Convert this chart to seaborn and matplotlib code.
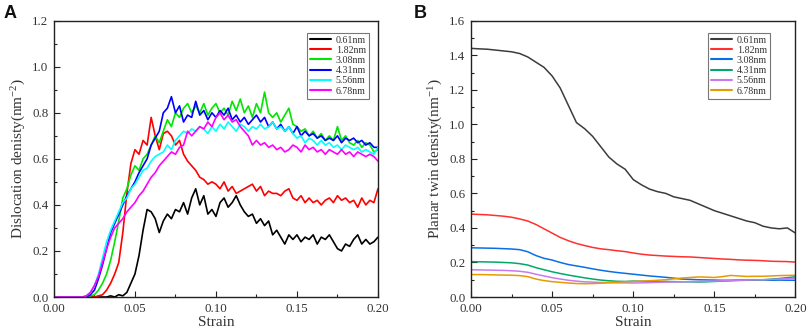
import numpy as np
import pandas as pd
import matplotlib
matplotlib.use("Agg")
import matplotlib.pyplot as plt
import seaborn as sns
from matplotlib.ticker import MultipleLocator, FormatStrFormatter

# ---------------- data ----------------
sizes = ["0.61nm", "1.82nm", "3.08nm", "4.31nm", "5.56nm", "6.78nm"]

strain_a = np.linspace(0.0, 0.2, 81)   # step 0.0025
strain_b = np.linspace(0.0, 0.2, 41)   # step 0.005

disl_061 = [0, 0, 0, 0, 0, 0, 0, 0, 0, 0, 0, 0, 0, 0, 0.005, 0.0, 0.01, 0.005, 0.02, 0.06,
            0.10, 0.18, 0.29, 0.38, 0.37, 0.34, 0.28, 0.33, 0.36, 0.34, 0.38, 0.37, 0.41, 0.36,
            0.43, 0.47, 0.40, 0.44, 0.36, 0.38, 0.35, 0.41, 0.43, 0.39, 0.41, 0.44, 0.40, 0.37,
            0.35, 0.36, 0.32, 0.34, 0.31, 0.33, 0.27, 0.29, 0.26, 0.23, 0.27, 0.25, 0.27, 0.24,
            0.26, 0.25, 0.27, 0.23, 0.26, 0.25, 0.27, 0.24, 0.21, 0.20, 0.23, 0.22, 0.25, 0.27,
            0.23, 0.25, 0.23, 0.24, 0.26]
disl_182 = [0, 0, 0, 0, 0, 0, 0, 0, 0, 0, 0.0, 0.005, 0.01, 0.03, 0.06, 0.10, 0.15, 0.28, 0.45,
            0.58, 0.64, 0.62, 0.68, 0.66, 0.78, 0.70, 0.64, 0.71, 0.72, 0.70, 0.66, 0.68, 0.62,
            0.59, 0.57, 0.55, 0.52, 0.51, 0.49, 0.50, 0.49, 0.47, 0.50, 0.46, 0.48, 0.45, 0.46,
            0.47, 0.48, 0.49, 0.46, 0.48, 0.44, 0.46, 0.45, 0.45, 0.44, 0.46, 0.47, 0.43, 0.42,
            0.44, 0.41, 0.43, 0.41, 0.42, 0.40, 0.42, 0.43, 0.41, 0.44, 0.42, 0.43, 0.41, 0.42,
            0.39, 0.43, 0.40, 0.42, 0.41, 0.47]
disl_308 = [0, 0, 0, 0, 0, 0, 0, 0, 0, 0.005, 0.01, 0.03, 0.06, 0.10, 0.16, 0.24, 0.33, 0.43,
            0.47, 0.53, 0.57, 0.55, 0.60, 0.62, 0.66, 0.70, 0.67, 0.72, 0.77, 0.74, 0.80, 0.78,
            0.82, 0.84, 0.80, 0.83, 0.80, 0.84, 0.79, 0.82, 0.84, 0.80, 0.82, 0.79, 0.85, 0.81,
            0.86, 0.80, 0.83, 0.78, 0.84, 0.80, 0.89, 0.80, 0.78, 0.80, 0.76, 0.79, 0.82, 0.75,
            0.74, 0.72, 0.73, 0.70, 0.72, 0.69, 0.71, 0.68, 0.70, 0.68, 0.74, 0.68, 0.70, 0.67,
            0.66, 0.68, 0.65, 0.67, 0.66, 0.63, 0.64]
disl_431 = [0, 0, 0, 0, 0, 0, 0, 0, 0, 0.01, 0.03, 0.08, 0.14, 0.21, 0.28, 0.32, 0.36, 0.40,
            0.44, 0.47, 0.50, 0.54, 0.57, 0.60, 0.66, 0.69, 0.72, 0.80, 0.82, 0.87, 0.80, 0.83,
            0.76, 0.79, 0.78, 0.85, 0.79, 0.81, 0.77, 0.80, 0.78, 0.81, 0.79, 0.82, 0.77, 0.79,
            0.76, 0.78, 0.75, 0.77, 0.79, 0.76, 0.78, 0.74, 0.76, 0.73, 0.75, 0.72, 0.74, 0.71,
            0.74, 0.70, 0.72, 0.70, 0.71, 0.69, 0.70, 0.68, 0.69, 0.68, 0.70, 0.67, 0.69, 0.68,
            0.69, 0.67, 0.68, 0.66, 0.67, 0.65, 0.65]
disl_556 = [0, 0, 0, 0, 0, 0, 0, 0, 0.005, 0.02, 0.05, 0.10, 0.17, 0.24, 0.29, 0.33, 0.37, 0.41,
            0.43, 0.47, 0.49, 0.52, 0.55, 0.56, 0.59, 0.61, 0.62, 0.63, 0.66, 0.64, 0.68, 0.70,
            0.72, 0.71, 0.73, 0.72, 0.74, 0.73, 0.71, 0.74, 0.72, 0.75, 0.73, 0.76, 0.74, 0.72,
            0.75, 0.74, 0.72, 0.74, 0.73, 0.75, 0.73, 0.74, 0.76, 0.73, 0.74, 0.72, 0.74, 0.71,
            0.69, 0.70, 0.67, 0.69, 0.68, 0.66, 0.68, 0.66, 0.67, 0.65, 0.66, 0.64, 0.66, 0.65,
            0.64, 0.65, 0.63, 0.64, 0.63, 0.62, 0.65]
disl_678 = [0, 0, 0, 0, 0, 0, 0, 0, 0.005, 0.02, 0.05, 0.09, 0.15, 0.21, 0.26, 0.30, 0.32, 0.34,
            0.37, 0.39, 0.41, 0.44, 0.46, 0.49, 0.52, 0.54, 0.57, 0.59, 0.61, 0.63, 0.62, 0.65,
            0.66, 0.72, 0.70, 0.72, 0.74, 0.73, 0.76, 0.74, 0.78, 0.80, 0.77, 0.79, 0.76, 0.77,
            0.74, 0.72, 0.70, 0.66, 0.68, 0.66, 0.67, 0.65, 0.66, 0.64, 0.65, 0.63, 0.64, 0.66,
            0.65, 0.63, 0.66, 0.64, 0.65, 0.63, 0.64, 0.62, 0.64, 0.63, 0.62, 0.64, 0.62, 0.63,
            0.61, 0.63, 0.62, 0.61, 0.62, 0.61, 0.59]

twin_061 = [1.44, 1.437, 1.435, 1.43, 1.425, 1.42, 1.41, 1.39, 1.36, 1.33, 1.28, 1.21, 1.11,
            1.01, 0.975, 0.93, 0.87, 0.81, 0.77, 0.74, 0.68, 0.65, 0.625, 0.61, 0.60, 0.58,
            0.57, 0.56, 0.54, 0.52, 0.50, 0.485, 0.47, 0.455, 0.44, 0.43, 0.41, 0.40, 0.395,
            0.40, 0.37]
twin_182 = [0.48, 0.478, 0.476, 0.472, 0.468, 0.462, 0.452, 0.44, 0.42, 0.395, 0.37, 0.345,
            0.326, 0.31, 0.298, 0.287, 0.279, 0.274, 0.268, 0.263, 0.255, 0.248, 0.243, 0.24,
            0.237, 0.235, 0.233, 0.232, 0.229, 0.226, 0.223, 0.22, 0.218, 0.215, 0.213, 0.212,
            0.21, 0.207, 0.206, 0.205, 0.202]
twin_308 = [0.285, 0.284, 0.283, 0.282, 0.28, 0.278, 0.274, 0.262, 0.24, 0.224, 0.214, 0.2,
            0.188, 0.18, 0.172, 0.163, 0.155, 0.148, 0.142, 0.137, 0.132, 0.127, 0.122, 0.118,
            0.114, 0.109, 0.104, 0.102, 0.10, 0.099, 0.098, 0.097, 0.097, 0.098, 0.097, 0.098,
            0.099, 0.097, 0.098, 0.097, 0.097]
twin_431 = [0.205, 0.204, 0.203, 0.202, 0.2, 0.198, 0.193, 0.185, 0.17, 0.158, 0.146, 0.136,
            0.127, 0.119, 0.111, 0.104, 0.098, 0.094, 0.091, 0.09, 0.092, 0.091, 0.09, 0.089,
            0.09, 0.089, 0.088, 0.088, 0.087, 0.088, 0.09, 0.092, 0.094, 0.096, 0.097, 0.099,
            0.10, 0.103, 0.107, 0.112, 0.117]
twin_556 = [0.158, 0.157, 0.156, 0.155, 0.154, 0.152, 0.149, 0.143, 0.132, 0.122, 0.112, 0.104,
            0.097, 0.092, 0.088, 0.086, 0.084, 0.083, 0.082, 0.082, 0.081, 0.082, 0.083, 0.085,
            0.086, 0.087, 0.088, 0.089, 0.09, 0.091, 0.092, 0.094, 0.096, 0.097, 0.098, 0.099,
            0.10, 0.102, 0.104, 0.106, 0.108]
twin_678 = [0.13, 0.13, 0.129, 0.128, 0.127, 0.126, 0.124, 0.118, 0.104, 0.095, 0.089, 0.085,
            0.081, 0.078, 0.077, 0.078, 0.08, 0.083, 0.086, 0.088, 0.09, 0.092, 0.094, 0.097,
            0.10, 0.105, 0.11, 0.113, 0.116, 0.115, 0.113, 0.118, 0.125, 0.122, 0.119, 0.12,
            0.12, 0.122, 0.124, 0.125, 0.126]

colors_a = ["#000000", "#ff0000", "#00e600", "#0000ff", "#00ffff", "#ff00ff"]
colors_b = ["#3c3c3c", "#ff3030", "#0a6fe6", "#00a86b", "#c77bf0", "#e69b00"]

# ---------------- style ----------------
sns.set_style("ticks")
plt.rcParams["font.family"] = ["Liberation Serif", "DejaVu Serif"]
plt.rcParams["mathtext.fontset"] = "custom"
plt.rcParams["mathtext.rm"] = "Liberation Serif"
plt.rcParams["mathtext.default"] = "regular"
TXT = "#333333"

def long_df(x, series):
    frames = []
    for name, vals in zip(sizes, series):
        frames.append(pd.DataFrame({"strain": x, "value": vals, "size": name}))
    return pd.concat(frames, ignore_index=True)

df_a = long_df(strain_a, [disl_061, disl_182, disl_308, disl_431, disl_556, disl_678])
df_b = long_df(strain_b, [twin_061, twin_182, twin_308, twin_431, twin_556, twin_678])

fig = plt.figure(figsize=(8.09, 3.33), dpi=100)
ax_a = fig.add_axes([0.0667, 0.1081, 0.4005, 0.8297])
ax_b = fig.add_axes([0.5822, 0.1081, 0.4011, 0.8297])

sns.lineplot(data=df_a, x="strain", y="value", hue="size", hue_order=sizes,
             palette=colors_a, linewidth=1.2, ax=ax_a, estimator=None, sort=False)
sns.lineplot(data=df_b, x="strain", y="value", hue="size", hue_order=sizes,
             palette=colors_b, linewidth=1.1, ax=ax_b, estimator=None, sort=False)

def style_axes(ax, ymax, ylabel, leg_anchor):
    ax.set_xlim(0, 0.2)
    ax.set_ylim(0, ymax)
    ax.xaxis.set_major_locator(MultipleLocator(0.05))
    ax.xaxis.set_minor_locator(MultipleLocator(0.025))
    ax.yaxis.set_major_locator(MultipleLocator(0.2))
    ax.yaxis.set_minor_locator(MultipleLocator(0.1))
    ax.xaxis.set_major_formatter(FormatStrFormatter("%.2f"))
    ax.yaxis.set_major_formatter(FormatStrFormatter("%.1f"))
    ax.tick_params(which="both", direction="in", top=False, right=False,
                   colors="#222222", labelcolor=TXT, labelsize=9.3, width=0.8)
    ax.tick_params(which="major", length=4, pad=4)
    ax.tick_params(which="minor", length=2.5)
    for sp in ax.spines.values():
        sp.set_visible(True)
        sp.set_color("#222222")
        sp.set_linewidth(1.0)
    ax.set_xlabel("Strain", fontsize=11, color=TXT, labelpad=1)
    ax.set_ylabel(ylabel, fontsize=11, color=TXT, labelpad=3)
    leg = ax.legend(loc="upper right", bbox_to_anchor=leg_anchor, borderaxespad=0,
                    fontsize=7.2, frameon=True, fancybox=False, handlelength=2.1,
                    handletextpad=0.5, labelspacing=0.12, borderpad=0.3)
    leg.get_frame().set_edgecolor("#555555")
    leg.get_frame().set_linewidth(0.8)
    for t in leg.get_texts():
        t.set_color(TXT)
    for h in leg.get_lines():
        h.set_linewidth(1.5)

style_axes(ax_a, 1.2, "Dislocation denisty(nm$^{-2}$)", (0.972, 0.957))
style_axes(ax_b, 1.6, "Planar twin density(nm$^{-1}$)", (0.921, 0.957))

fig.text(0.004, 0.985, "A", fontsize=13, fontweight="bold", family="Liberation Sans",
         va="top", ha="left", color="#111111")
fig.text(0.512, 0.985, "B", fontsize=13, fontweight="bold", family="Liberation Sans",
         va="top", ha="left", color="#111111")

fig.savefig("out.png", dpi=100)
